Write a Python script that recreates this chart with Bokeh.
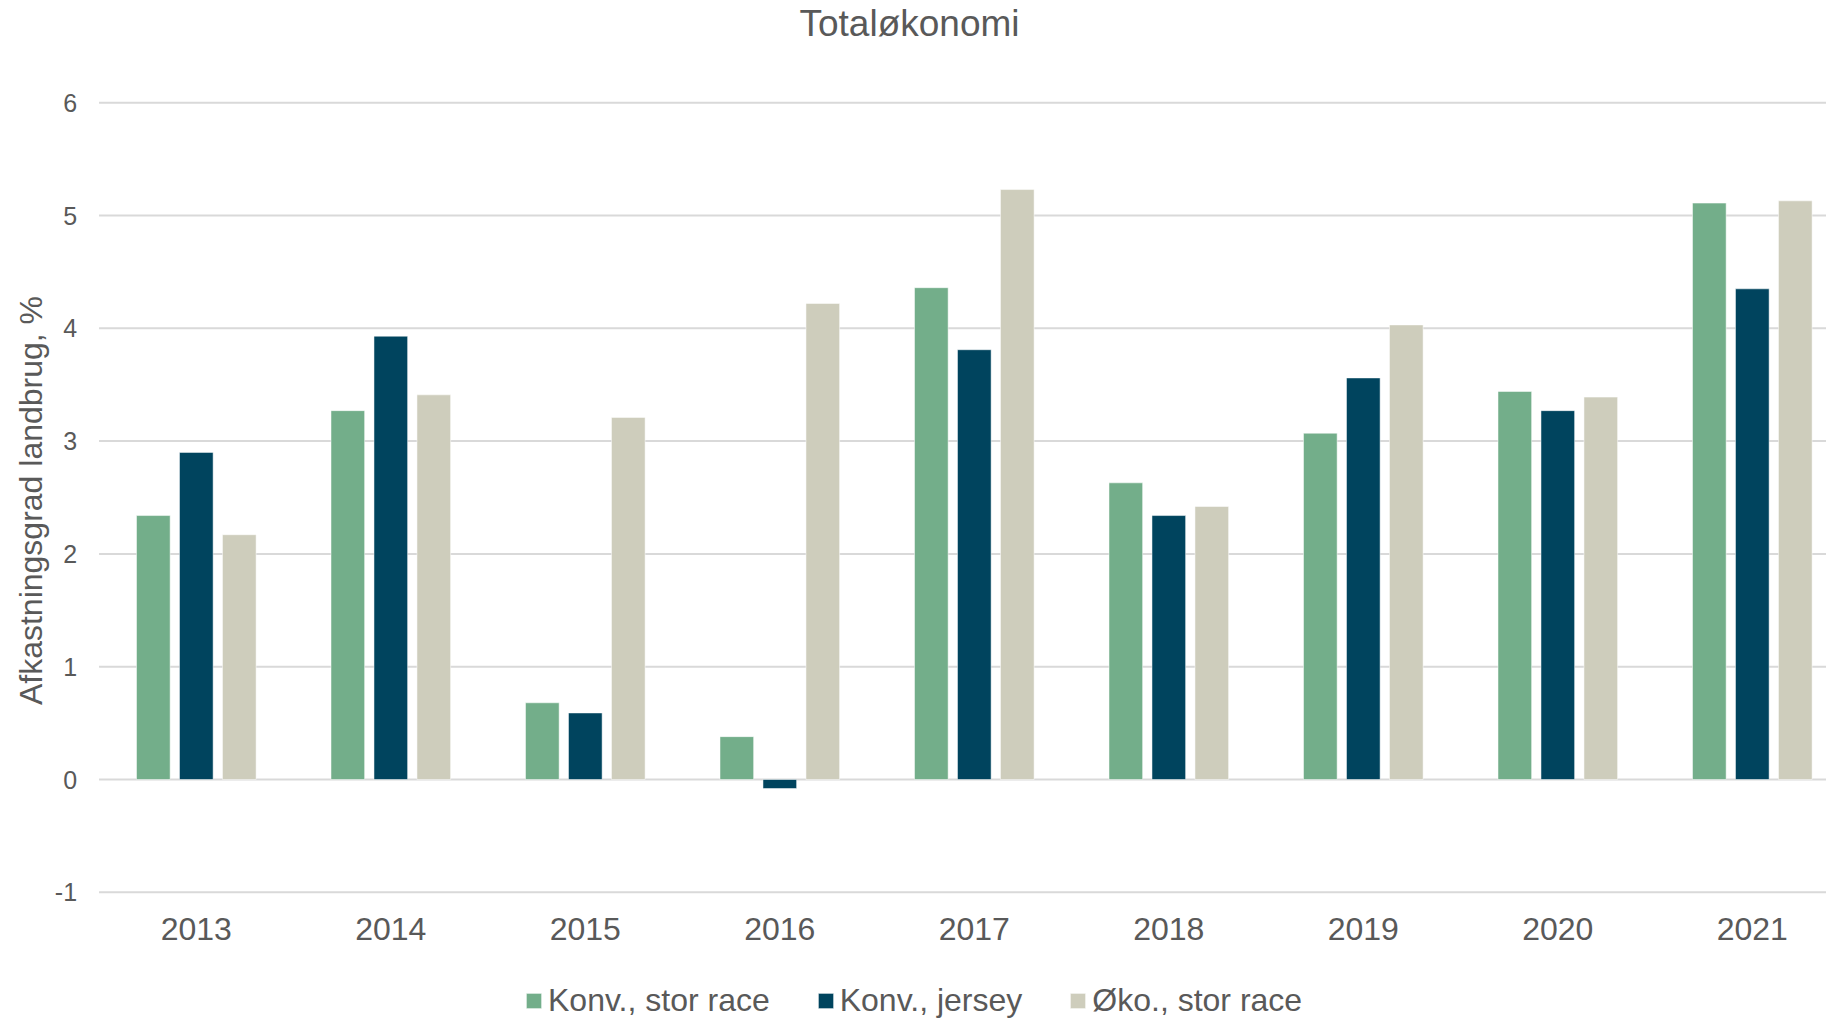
import numpy as np
from bokeh.plotting import figure
from bokeh.models import (Range1d, FixedTicker, Legend, LegendItem, Label,
                          ColumnDataSource, LinearAxis)
from bokeh.transform import dodge
from bokeh.embed import file_html
from bokeh.resources import INLINE

# ---- data ----
years = ["2013", "2014", "2015", "2016", "2017", "2018", "2019", "2020", "2021"]
konv_stor_race = [2.34, 3.27, 0.68, 0.38, 4.36, 2.63, 3.07, 3.44, 5.11]
konv_jersey = [2.90, 3.93, 0.59, -0.08, 3.81, 2.34, 3.56, 3.27, 4.35]
oko_stor_race = [2.17, 3.41, 3.21, 4.22, 5.23, 2.42, 4.03, 3.39, 5.13]
series_names = ["Konv., stor race", "Konv., jersey", "Øko., stor race"]
y_ticks = [-1, 0, 1, 2, 3, 4, 5, 6]
y_tick_labels = ["-1", "0", "1", "2", "3", "4", "5", "6"]
title_text = "Totaløkonomi"
y_label = "Afkastningsgrad landbrug, %"

colors = ["#73AE8A", "#00445E", "#CECDBC"]
TEXT = "#595959"
FONT = "Liberation Sans"
W, H = 1826, 1020

pos = list(range(len(years)))
src = ColumnDataSource(dict(x=pos, a=konv_stor_race, b=konv_jersey, c=oko_stor_race))

# whole canvas is the plot frame; axes are placed inside it
x_start = -1.0067
x_end = x_start + W / 194.5
y_end = 779 / 112.8
y_start = -(H - 779) / 112.8

p = figure(width=W, height=H, output_backend="svg", toolbar_location=None,
           x_range=Range1d(x_start, x_end), y_range=Range1d(y_start, y_end),
           x_axis_location=None, y_axis_location=None,
           min_border=0)
p.outline_line_color = None
p.background_fill_color = "white"
p.border_fill_color = "white"
p.xgrid.visible = False
p.ygrid.visible = False

plot_left = -0.5
grid_src = ColumnDataSource(dict(y=y_ticks, x0=[plot_left] * len(y_ticks), x1=[x_end] * len(y_ticks)))
p.segment(x0="x0", x1="x1", y0="y", y1="y", source=grid_src, line_color="#D9D9D9", line_width=2)

renderers = []
for col, off, c in zip(["a", "b", "c"], [-0.221, 0.0, 0.221], colors):
    r = p.vbar(x=dodge("x", off, range=p.x_range), top=col, bottom=0, width=0.173,
               source=src, fill_color=c, line_color="white", line_alpha=0.5, line_width=1)
    renderers.append(r)

# x axis (fixed at the bottom gridline)
xaxis = LinearAxis(fixed_location=-1.0, ticker=FixedTicker(ticks=pos),
                   major_label_overrides={i: y for i, y in zip(pos, years)})
xaxis.axis_line_color = None
xaxis.major_tick_line_color = None
xaxis.minor_tick_line_color = None
xaxis.major_label_text_font_size = "32px"
xaxis.major_label_text_color = TEXT
xaxis.major_label_text_font = FONT
xaxis.major_label_standoff = 20
p.add_layout(xaxis, "below")

# y axis (fixed at the left edge of the plot area)
yaxis = LinearAxis(fixed_location=plot_left, ticker=FixedTicker(ticks=y_ticks),
                   major_label_overrides={t: s for t, s in zip(y_ticks, y_tick_labels)})
yaxis.axis_line_color = None
yaxis.major_tick_line_color = None
yaxis.minor_tick_line_color = None
yaxis.major_label_text_font_size = "25px"
yaxis.major_label_text_color = TEXT
yaxis.major_label_text_font = FONT
yaxis.major_label_standoff = 16
p.add_layout(yaxis, "left")

ylab = Label(x=30, y=H - 500, x_units="screen", y_units="screen", text=y_label,
             angle=np.pi / 2, text_align="center", text_baseline="alphabetic",
             text_font_size="32px", text_color=TEXT, text_font=FONT)
p.add_layout(ylab)

title = Label(x=909, y=H - 23, x_units="screen", y_units="screen", text=title_text,
              text_align="center", text_baseline="alphabetic", text_font_size="37px",
              text_color=TEXT, text_font=FONT)
p.add_layout(title)

legend = Legend(items=[LegendItem(label=n, renderers=[r]) for n, r in zip(series_names, renderers)],
                orientation="horizontal", location=(524, 0.5),
                glyph_width=19, glyph_height=19, label_standoff=5, spacing=46,
                label_height=38, padding=0, margin=0, border_line_color=None,
                background_fill_alpha=0,
                label_text_font_size="32px", label_text_color=TEXT, label_text_font=FONT)
p.add_layout(legend)

open("out.html", "w").write(file_html(p, INLINE))
